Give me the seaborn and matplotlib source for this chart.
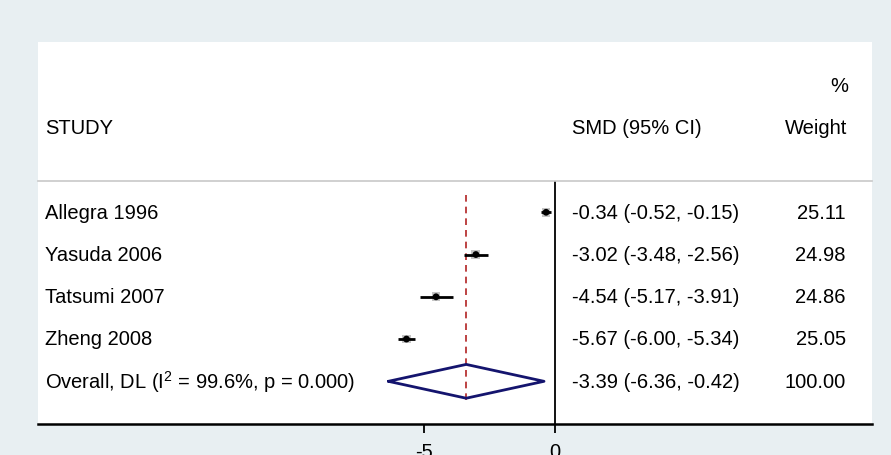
import matplotlib
matplotlib.use("Agg")
import matplotlib.pyplot as plt
import matplotlib.transforms as mtransforms
from matplotlib.patches import Rectangle
import seaborn as sns
import pandas as pd

studies = ["Allegra 1996", "Yasuda 2006", "Tatsumi 2007", "Zheng 2008"]
smd = [-0.34, -3.02, -4.54, -5.67]
ci_low = [-0.52, -3.48, -5.17, -6.00]
ci_high = [-0.15, -2.56, -3.91, -5.34]
weights = [25.11, 24.98, 24.86, 25.05]
overall_label = r"Overall, DL (I$^{2}$ = 99.6%, p = 0.000)"
overall = -3.39
overall_low = -6.36
overall_high = -0.42
overall_weight = 100.00
xtick_vals = [-5, 0]
xtick_labels = ["-5", "0"]

sns.set_theme(style="white")
plt.rcParams['font.family'] = ['Liberation Sans', 'DejaVu Sans']
plt.rcParams['mathtext.fontset'] = 'custom'
plt.rcParams['mathtext.rm'] = 'Liberation Sans'
plt.rcParams['mathtext.it'] = 'Liberation Sans'
plt.rcParams['text.color'] = 'black'
plt.rcParams['xtick.color'] = 'black'

W, H = 891, 455
BG = "#E8EFF2"
fig = plt.figure(figsize=(W / 100, H / 100), dpi=100, facecolor=BG)

def fx(px):
    return px / W

def fy(py):
    return 1 - py / H

# white panel
fig.patches.append(Rectangle((fx(38), fy(424)), fx(872) - fx(38), fy(42) - fy(424),
                             transform=fig.transFigure, facecolor="white",
                             edgecolor="none", zorder=-5))

ax = fig.add_axes([fx(38), fy(424), fx(872) - fx(38), fy(181) - fy(424)])
ax.set_facecolor("none")
ax.set_zorder(2)

FS = 14.5
df = pd.DataFrame({"study": studies, "smd": smd, "lo": ci_low, "hi": ci_high,
                   "w": weights, "row": range(len(studies))})

# CI lines
ax.hlines(df["row"], df["lo"], df["hi"], color="black", lw=2.0, zorder=3)
# weight boxes
sns.scatterplot(data=df, x="smd", y="row", marker="s", s=40, color="#C4C4C4",
                edgecolor="none", ax=ax, zorder=2, legend=False)
# point estimates
sns.scatterplot(data=df, x="smd", y="row", marker="o", s=24, color="black",
                edgecolor="none", ax=ax, zorder=4, legend=False)

orow = len(studies)
# overall diamond
dx = [overall_low, overall, overall_high, overall, overall_low]
dy = [orow, orow - 0.4, orow, orow + 0.4, orow]
ax.plot(dx, dy, color="#14146E", lw=2.0, zorder=3)

# overall dashed line
ax.vlines(overall, -0.41, orow + 0.48, color="#B22222", lw=1.2,
          linestyles=(0, (4, 3)), zorder=1)
# zero line
ax.axvline(0, color="black", lw=1.3, zorder=2)

ax.set_xlim(-(555 - 38) / 26.2, (872 - 555) / 26.2)
ax.set_ylim(orow + 1.01, -0.74)

trans = mtransforms.blended_transform_factory(ax.transAxes, ax.transData)
labels = studies + [overall_label]
vals = [f"{m:.2f} ({l:.2f}, {h:.2f})" for m, l, h in zip(smd, ci_low, ci_high)]
vals.append(f"{overall:.2f} ({overall_low:.2f}, {overall_high:.2f})")
wts = [f"{w:.2f}" for w in weights] + [f"{overall_weight:.2f}"]
for i, (lab, v, w) in enumerate(zip(labels, vals, wts)):
    ax.text((45 - 38) / 834, i + 0.02, lab, transform=trans, ha="left", va="center",
            fontsize=FS, color="black")
    ax.text((572 - 38) / 834, i + 0.02, v, transform=trans, ha="left", va="center",
            fontsize=FS, color="black")
    ax.text((846 - 38) / 834, i + 0.02, w, transform=trans, ha="right", va="center",
            fontsize=FS, color="black")

# headers
fig.text(fx(45), fy(128), "STUDY", ha="left", va="center", fontsize=FS)
fig.text(fx(572), fy(128), "SMD (95% CI)", ha="left", va="center", fontsize=FS)
fig.text(fx(847), fy(128), "Weight", ha="right", va="center", fontsize=FS)
fig.text(fx(848), fy(87), "%", ha="right", va="center", fontsize=FS)

# spines
for s in ["left", "right"]:
    ax.spines[s].set_visible(False)
ax.spines["top"].set_color("#C8C8C8")
ax.spines["top"].set_linewidth(1.2)
ax.spines["bottom"].set_color("black")
ax.spines["bottom"].set_linewidth(1.8)

ax.set_yticks([])
ax.set_xticks(xtick_vals)
ax.set_xticklabels(xtick_labels, fontsize=FS)
ax.tick_params(axis="x", bottom=True, length=6.5, width=1.3, color="black",
               pad=7, labelcolor="black")
ax.set_xlabel("")
ax.set_ylabel("")

fig.savefig("out.png", dpi=100, facecolor=BG)
